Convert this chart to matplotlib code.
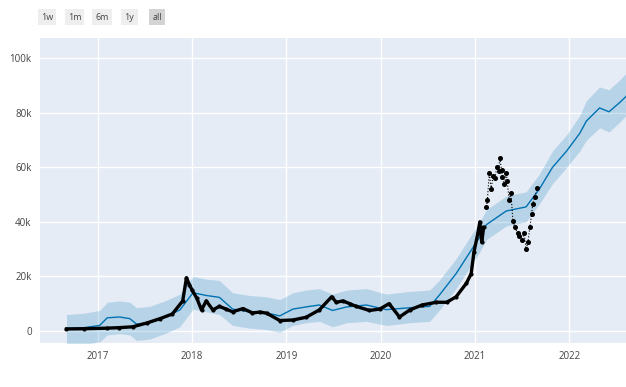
import matplotlib

matplotlib.use("Agg")
import matplotlib.pyplot as plt
import matplotlib.dates as mdates
import numpy as np
import pandas as pd

# decimal-year positions
actual_t = [
    2016.67, 2016.86, 2017.10, 2017.23, 2017.37, 2017.52, 2017.66, 2017.79, 2017.90,
    2017.94, 2017.97, 2018.00, 2018.05, 2018.10, 2018.15, 2018.22, 2018.29, 2018.36,
    2018.43, 2018.54, 2018.64, 2018.72, 2018.79, 2018.93, 2019.07, 2019.21, 2019.35,
    2019.48, 2019.53, 2019.60, 2019.67, 2019.74, 2019.88, 2019.99, 2020.09, 2020.20,
    2020.31, 2020.44, 2020.59, 2020.70, 2020.80, 2020.91, 2020.96, 2020.99, 2021.03,
    2021.05, 2021.07, 2021.09,
]
actual_y = [
    700, 800, 1000, 1200, 1500, 2900, 4500, 6200, 11000,
    19500, 17000, 15000, 12000, 7700, 11000, 7700, 9000, 8000,
    7000, 8200, 6600, 6900, 6500, 3800, 4000, 5000, 7700,
    12500, 10500, 11000, 10000, 9000, 7500, 8000, 10000, 5100,
    7700, 9500, 10500, 10500, 12500, 17500, 21000, 29000, 36000,
    40000, 32500, 38000,
]
# 2021 points appear as loose dots
cluster_t = [
    2021.12, 2021.13, 2021.15, 2021.17, 2021.19, 2021.21, 2021.23, 2021.25, 2021.26,
    2021.28, 2021.29, 2021.31, 2021.33, 2021.34, 2021.36, 2021.38, 2021.40, 2021.42,
    2021.45, 2021.47, 2021.50, 2021.52, 2021.54, 2021.56, 2021.58, 2021.60, 2021.61,
    2021.63, 2021.66,
]
cluster_y = [
    45500, 48000, 58000, 52000, 57000, 56000, 60000, 58500, 63500,
    59000, 56500, 54000, 58000, 55000, 48000, 50500, 40500, 38000,
    36000, 35000, 33500, 36000, 30000, 32500, 38000, 43000, 46500,
    49000, 52500,
]

forecast_t = [
    2016.67, 2016.86, 2017.02, 2017.10, 2017.23, 2017.34, 2017.41, 2017.55, 2017.71,
    2017.87, 2018.01, 2018.15, 2018.29, 2018.43, 2018.61, 2018.79, 2018.93, 2019.07,
    2019.21, 2019.35, 2019.49, 2019.64, 2019.85, 2020.06, 2020.31, 2020.52, 2020.62,
    2020.80, 2020.94, 2021.05, 2021.12, 2021.33, 2021.54, 2021.68, 2021.82, 2021.97,
    2022.11, 2022.18, 2022.32, 2022.42, 2022.53, 2022.60,
]
yhat = [
    1000, 1200, 2000, 4800, 5100, 4500, 2500, 3000, 5000,
    7700, 14000, 13000, 12300, 8000, 7000, 6600, 5500, 8000,
    8800, 9500, 7500, 8800, 9500, 7800, 8500, 9000, 13000,
    21000, 28500, 34500, 39000, 44000, 45500, 52000, 60000, 66000,
    72500, 77000, 81800, 80400, 83700, 86000,
]
yhat_lower = [
    -5500, -5000, -4000, -1500, -1000, -1500, -3500, -3000, -1000,
    1500, 8000, 7000, 6000, 2000, 1000, 500, -500, 2000,
    3000, 3500, 1500, 3000, 3500, 2000, 3000, 3500, 7500,
    15500, 23000, 29000, 33500, 38500, 40000, 46500, 54000, 60000,
    66000, 70000, 74500, 73000, 76500, 79000,
]
yhat_upper = [
    6000, 6500, 7500, 10500, 11000, 10500, 8500, 9000, 11000,
    13500, 20000, 19000, 18500, 14000, 13000, 12500, 11500, 14000,
    15000, 15500, 13500, 15000, 15500, 13500, 14500, 15000, 18500,
    26500, 34000, 40000, 44500, 49500, 51000, 57500, 66000, 72000,
    79000, 84500, 89500, 88500, 92000, 94500,
]

y_ticks = [0, 20000, 40000, 60000, 80000, 100000]
y_tick_labels = ["0", "20k", "40k", "60k", "80k", "100k"]
buttons = ["1w", "1m", "6m", "1y", "all"]


def to_dates(years):
    out = []
    for y in years:
        year = int(np.floor(y))
        start = pd.Timestamp(year=year, month=1, day=1)
        out.append(start + pd.Timedelta(days=(y - year) * 365.25))
    return out


plt.rcParams["font.family"] = ["Open Sans", "DejaVu Sans"]

fig = plt.figure(figsize=(6.26, 3.87), dpi=100)
ax = fig.add_axes([0.064, 0.114, 0.936, 0.788])
ax.set_facecolor("#E5ECF6")

f_dates = to_dates(forecast_t)

ax.fill_between(f_dates, yhat_lower, yhat_upper, color=(0, 114 / 255, 178 / 255, 0.2), lw=0, zorder=2)
ax.plot(f_dates, yhat, color="#0072B2", lw=1.0, zorder=3)
ax.plot(to_dates(actual_t), actual_y, color="black", lw=2.4, marker="o", ms=2, zorder=4)
ax.plot(to_dates(cluster_t), cluster_y, color="black", lw=0.8, ls=":", marker="o", ms=2.6, zorder=4)

ax.set_xlim(to_dates([2016.39])[0], to_dates([2022.6])[0])
ax.set_ylim(-4400, 107500)
ax.set_yticks(y_ticks, y_tick_labels)
ax.xaxis.set_major_locator(mdates.YearLocator())
ax.xaxis.set_major_formatter(mdates.DateFormatter("%Y"))
ax.grid(color="white", lw=1.0, zorder=0)
ax.set_axisbelow(True)
for spine in ax.spines.values():
    spine.set_visible(False)
ax.tick_params(length=0, labelsize=7, colors="#444444", pad=6)

# range selector buttons
x0 = 47
for i, label in enumerate(buttons):
    face = "#d4d4d4" if label == "all" else "#eeeeee"
    fig.text((x0 + i * 27.5) / 626, 1 - 17 / 387, label, ha="center", va="center",
             fontsize=6.5, color="#444444",
             bbox=dict(boxstyle="square,pad=0.35", fc=face, ec="none"))

fig.savefig("out.png", dpi=100)
